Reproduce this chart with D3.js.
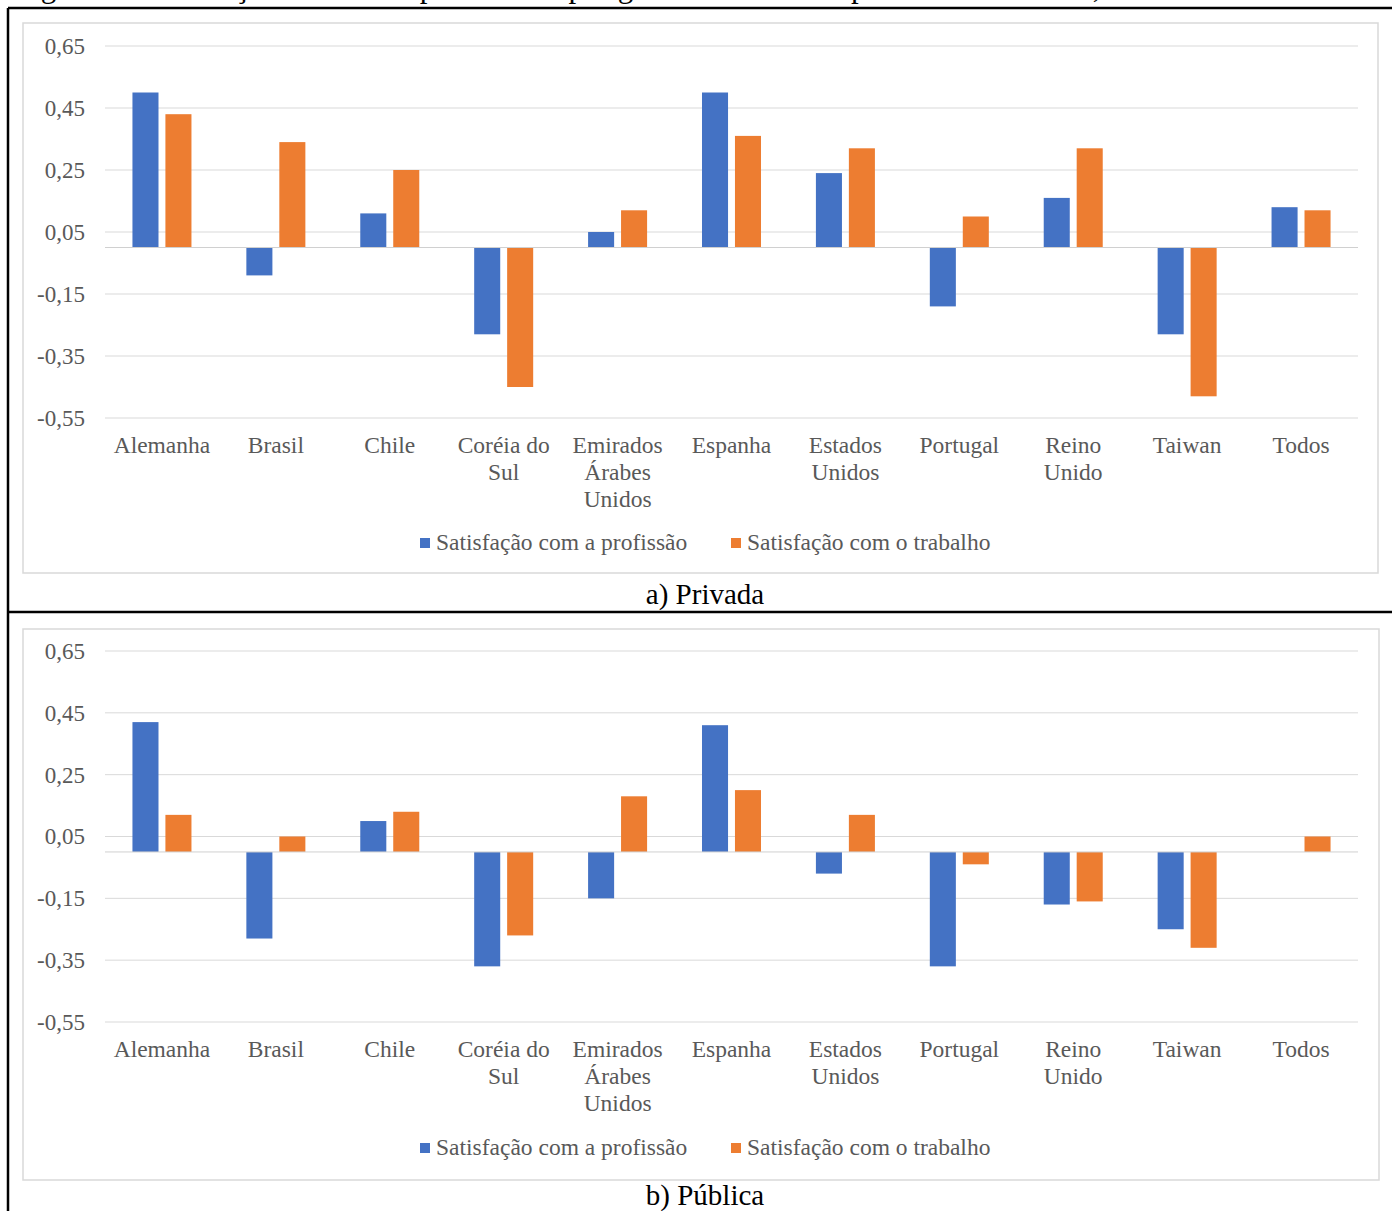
<!DOCTYPE html>
<html lang="pt">
<head>
<meta charset="utf-8">
<script src="https://cdn.jsdelivr.net/npm/d3@7"></script>
<style>
  html, body { margin: 0; padding: 0; background: #ffffff; }
  svg { display: block; }
</style>
</head>
<body>
<svg id="fig" width="1392" height="1211"></svg>
<script>
// Categories (countries) shared by both panels
const categories = ["Alemanha", "Brasil", "Chile", "Coréia do Sul", "Emirados Árabes Unidos",
  "Espanha", "Estados Unidos", "Portugal", "Reino Unido", "Taiwan", "Todos"];

// Series names
const seriesNames = ["Satisfação com a profissão", "Satisfação com o trabalho"];

// a) Privada
const privadaProfissao = [0.50, -0.09, 0.11, -0.28, 0.05, 0.50, 0.24, -0.19, 0.16, -0.28, 0.13];
const privadaTrabalho  = [0.43, 0.34, 0.25, -0.45, 0.12, 0.36, 0.32, 0.10, 0.32, -0.48, 0.12];

// b) Pública
const publicaProfissao = [0.42, -0.28, 0.10, -0.37, -0.15, 0.41, -0.07, -0.37, -0.17, -0.25, 0.00];
const publicaTrabalho  = [0.12, 0.05, 0.13, -0.27, 0.18, 0.20, 0.12, -0.04, -0.16, -0.31, 0.05];

// Y axis ticks
const yTicks = [0.65, 0.45, 0.25, 0.05, -0.15, -0.35, -0.55];

const titleText = "Figura 5 – Satisfação média dos professores por gestão escolar nos países selecionados, TALIS 2018";
const panelCaptions = ["a) Privada", "b) Pública"];

const colors = ["#4472C4", "#ED7D31"];
const serif = "'Liberation Serif', 'Times New Roman', serif";
const fmt = v => d3.format(".2f")(v).replace(".", ",").replace("−", "-");

const svg = d3.select("#fig");

// Figure title (runs off the top edge of the page)
svg.append("text")
  .attr("x", 15).attr("y", -3)
  .attr("font-family", serif).attr("font-size", 31)
  .attr("fill", "#000")
  .text(titleText);

// Table frame around both panels
const frame = svg.append("g").attr("stroke", "#000").attr("stroke-width", 2.5);
frame.append("line").attr("x1", 8).attr("x2", 1392).attr("y1", 8).attr("y2", 8);
frame.append("line").attr("x1", 8).attr("x2", 1392).attr("y1", 612).attr("y2", 612);
frame.append("line").attr("x1", 8).attr("x2", 8).attr("y1", 8).attr("y2", 1211);

function wrapLabel(textSel, width) {
  textSel.each(function() {
    const text = d3.select(this);
    const words = text.text().split(/\s+/);
    const x = text.attr("x");
    text.text(null);
    let line = [];
    let tspan = text.append("tspan").attr("x", x).attr("dy", 0);
    words.forEach(w => {
      line.push(w);
      tspan.text(line.join(" "));
      if (tspan.node().getComputedTextLength() > width && line.length > 1) {
        line.pop();
        tspan.text(line.join(" "));
        line = [w];
        tspan = text.append("tspan").attr("x", x).attr("dy", 27).text(w);
      }
    });
  });
}

function drawPanel(opt) {
  const g = svg.append("g");

  // chart area box
  g.append("rect")
    .attr("x", opt.box[0]).attr("y", opt.box[1])
    .attr("width", opt.box[2] - opt.box[0]).attr("height", opt.box[3] - opt.box[1])
    .attr("fill", "#fff").attr("stroke", "#d9d9d9").attr("stroke-width", 1.5);

  const x0 = d3.scaleBand().domain(categories).range([105, 1358]).padding(0);
  const x1 = d3.scaleBand().domain(seriesNames)
    .range([x0.bandwidth() * 0.241, x0.bandwidth() * 0.759])
    .paddingInner(0.21).paddingOuter(0);
  const y = d3.scaleLinear().domain([-0.55, 0.65]).range(opt.yRange);

  // gridlines
  g.append("g").selectAll("line").data(yTicks).join("line")
    .attr("x1", 105).attr("x2", 1358)
    .attr("y1", d => y(d)).attr("y2", d => y(d))
    .attr("stroke", "#d9d9d9").attr("stroke-width", 1);

  // y tick labels
  const yAxis = d3.axisLeft(y).tickValues(yTicks).tickFormat(fmt).tickSize(0).tickPadding(0);
  const ya = g.append("g").attr("transform", "translate(85,0)").call(yAxis);
  ya.select(".domain").remove();
  ya.selectAll("text")
    .attr("font-family", serif).attr("font-size", 23).attr("fill", "#595959");

  // bars
  const rows = categories.map((c, i) => ({ c, vals: [opt.a[i], opt.b[i]] }));
  g.append("g").selectAll("g").data(rows).join("g")
    .attr("transform", d => `translate(${x0(d.c)},0)`)
    .selectAll("rect")
    .data(d => d.vals.map((v, k) => ({ v, k })))
    .join("rect")
    .attr("x", d => x1(seriesNames[d.k]))
    .attr("width", x1.bandwidth())
    .attr("y", d => Math.min(y(d.v), y(0)))
    .attr("height", d => Math.abs(y(d.v) - y(0)))
    .attr("fill", d => colors[d.k]);

  // category axis at zero
  g.append("line")
    .attr("x1", 105).attr("x2", 1358)
    .attr("y1", y(0)).attr("y2", y(0))
    .attr("stroke", "#d0d0d0").attr("stroke-width", 1);

  // category labels
  g.append("g").selectAll("text").data(categories).join("text")
    .attr("x", d => x0(d) + x0.bandwidth() / 2)
    .attr("y", opt.labelY)
    .attr("text-anchor", "middle")
    .attr("font-family", serif).attr("font-size", 23.5).attr("fill", "#595959")
    .text(d => d)
    .call(wrapLabel, 106);

  // legend
  const lg = g.append("g");
  const legendX = [420, 731];
  seriesNames.forEach((s, k) => {
    lg.append("rect")
      .attr("x", legendX[k]).attr("y", opt.legendY - 5)
      .attr("width", 10).attr("height", 10)
      .attr("fill", colors[k]);
    lg.append("text")
      .attr("x", legendX[k] + 16).attr("y", opt.legendY + 7)
      .attr("font-family", serif).attr("font-size", 23.5).attr("fill", "#595959")
      .text(s);
  });

  // caption below the panel
  g.append("text")
    .attr("x", 705).attr("y", opt.captionY)
    .attr("text-anchor", "middle")
    .attr("font-family", serif).attr("font-size", 29).attr("fill", "#000")
    .text(opt.caption);
}

drawPanel({
  box: [23, 23, 1378, 573],
  yRange: [418, 46],
  a: privadaProfissao, b: privadaTrabalho,
  labelY: 453, legendY: 543, captionY: 604,
  caption: panelCaptions[0]
});

drawPanel({
  box: [23, 629, 1379, 1180],
  yRange: [1022, 651],
  a: publicaProfissao, b: publicaTrabalho,
  labelY: 1057, legendY: 1148, captionY: 1205,
  caption: panelCaptions[1]
});
</script>
</body>
</html>
